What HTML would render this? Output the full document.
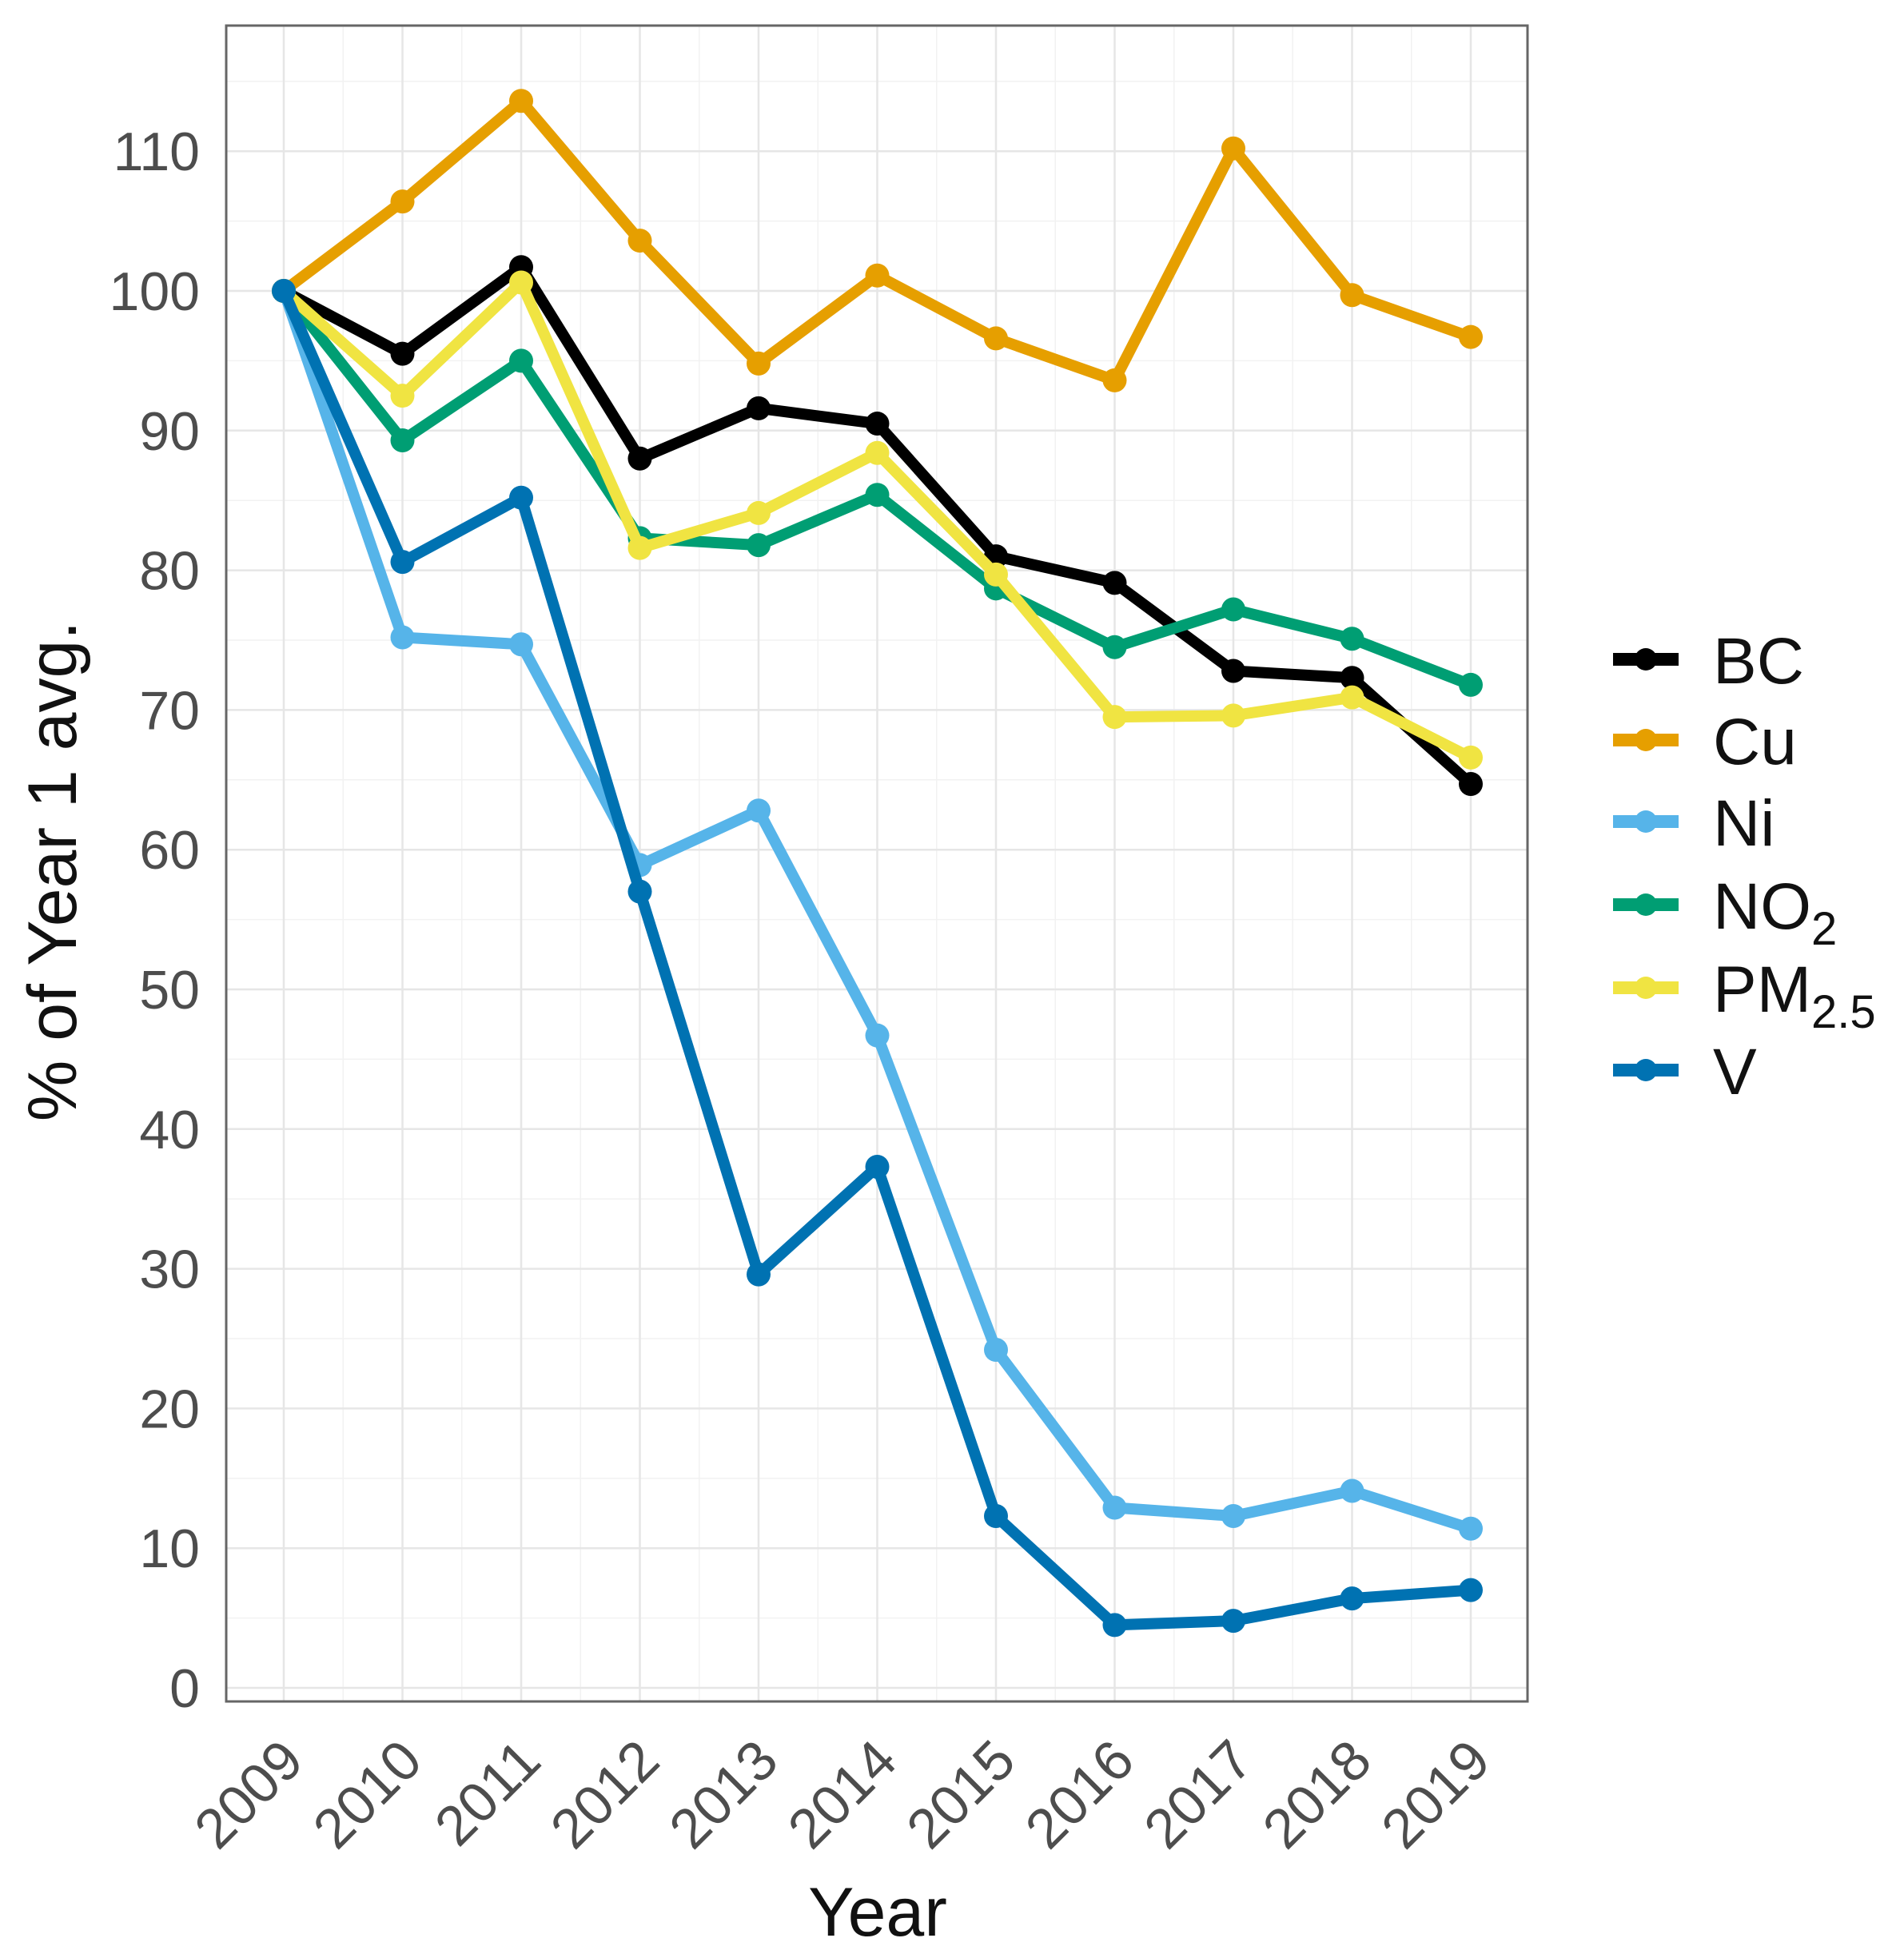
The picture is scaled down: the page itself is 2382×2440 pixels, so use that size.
<!DOCTYPE html>
<html><head><meta charset="utf-8"><style>html,body{margin:0;padding:0;background:#fff}svg{display:block}</style></head>
<body>
<svg id="s" width="2382" height="2440" viewBox="0 0 2382 2440" xmlns="http://www.w3.org/2000/svg" font-family="Liberation Sans, Arial, sans-serif">
<rect width="2382" height="2440" fill="#fff"/>
<g id="grid"></g>
<g id="series"></g>
<rect x="283" y="32" width="1628" height="2097" fill="none" stroke="#666" stroke-width="3"/>
<g id="labels" font-size="68" fill="#4d4d4d"></g>
<text x="1098" y="2422" font-size="86" text-anchor="middle" fill="#111">Year</text>
<text transform="translate(95,1090) rotate(-90)" font-size="86" text-anchor="middle" fill="#111">% of Year 1 avg.</text>
<g id="legend" font-size="82" fill="#111"></g>
<script>
var ns="http://www.w3.org/2000/svg";
function el(t,a,p){var e=document.createElementNS(ns,t);for(var k in a)e.setAttribute(k,a[k]);p.appendChild(e);return e;}
function X(i){return 355+i*148.5;}
function Y(v){return 2112-v*17.48;}
var g=document.getElementById('grid');
for(var v=5;v<120;v+=10){var y=Y(v);if(y>32)el('line',{x1:283,x2:1911,y1:y,y2:y,stroke:'#f2f2f2','stroke-width':1.5},g);}
for(var i=0;i<10;i++){var x=X(i+0.5);el('line',{x1:x,x2:x,y1:32,y2:2129,stroke:'#f2f2f2','stroke-width':1.5},g);}
for(var v=0;v<=110;v+=10){var y=Y(v);el('line',{x1:283,x2:1911,y1:y,y2:y,stroke:'#e6e6e6','stroke-width':2.5},g);}
for(var i=0;i<=10;i++){var x=X(i);el('line',{x1:x,x2:x,y1:32,y2:2129,stroke:'#e6e6e6','stroke-width':2.5},g);}
var L=document.getElementById('labels');
for(var v=0;v<=110;v+=10){var t=el('text',{x:250,y:Y(v)+24,'text-anchor':'end'},L);t.textContent=v;}
for(var i=0;i<=10;i++){var ax=X(i)+28,ay=2207;var t=el('text',{x:ax,y:ay,'text-anchor':'end','font-size':70,transform:'rotate(-45 '+ax+' '+ay+')'},L);t.textContent=2009+i;}
var D=[
['#000000',[100,95.5,101.7,88,91.6,90.5,81,79.1,72.8,72.3,64.7]],
['#E69F00',[100,106.4,113.6,103.6,94.8,101.1,96.6,93.6,110.2,99.7,96.7]],
['#56B4E9',[100,75.2,74.7,58.9,62.8,46.7,24.2,12.9,12.3,14.1,11.4]],
['#009E73',[100,89.3,95,82.3,81.8,85.4,78.7,74.5,77.2,75.1,71.8]],
['#F0E442',[100,92.5,100.6,81.6,84.1,88.4,79.7,69.5,69.6,70.9,66.6]],
['#0072B2',[100,80.6,85.2,57,29.6,37.3,12.3,4.5,4.8,6.4,7]]];
var S=document.getElementById('series');
D.forEach(function(d){var pts=d[1].map(function(v,i){return X(i)+','+Y(v)}).join(' ');
el('polyline',{points:pts,fill:'none',stroke:d[0],'stroke-width':14,'stroke-linejoin':'round','stroke-linecap':'round'},S);
d[1].forEach(function(v,i){el('circle',{cx:X(i),cy:Y(v),r:15,fill:d[0]},S);});});
var G=document.getElementById('legend');
var names=[['BC'],['Cu'],['Ni'],['NO','2'],['PM','2.5'],['V']];
var ys=[825,926,1028,1132,1236,1339];
names.forEach(function(n,k){var y=ys[k];
el('line',{x1:2018,x2:2100,y1:y,y2:y,stroke:D[k][0],'stroke-width':16},G);
el('circle',{cx:2059,cy:y,r:14,fill:D[k][0]},G);
var t=el('text',{x:2143,y:y+30},G);t.appendChild(document.createTextNode(n[0]));
if(n[1]){var s=el('tspan',{'font-size':58,dy:20},t);s.textContent=n[1];}});
</script>
</svg>
</body></html>
